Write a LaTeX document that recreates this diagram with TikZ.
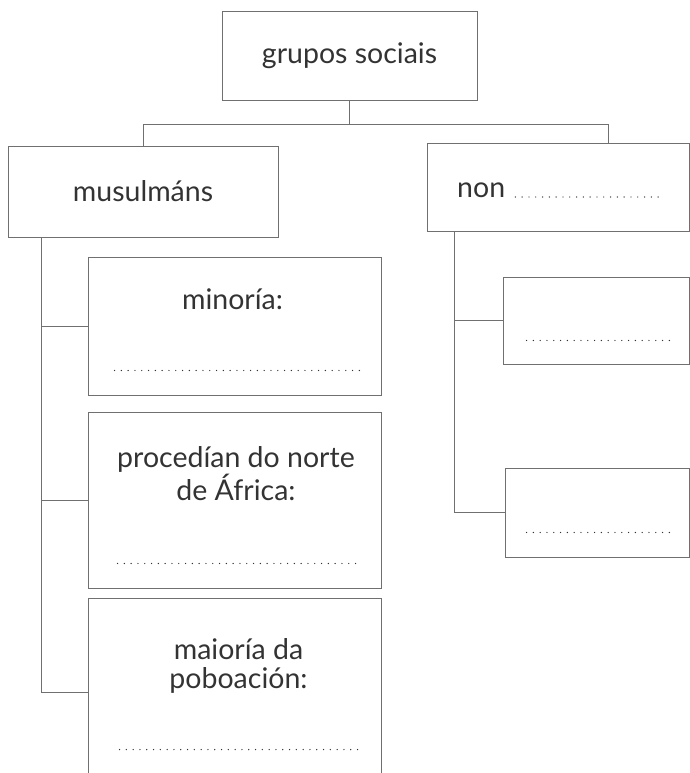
\documentclass[tikz,border=0pt]{standalone}
\usepackage{fontspec}
\setmainfont{Lato}
\usetikzlibrary{positioning}
\definecolor{ink}{HTML}{333333}
\definecolor{edge}{HTML}{707070}

\begin{document}
\begin{tikzpicture}[
    x=1pt, y=-1pt,
    box/.style={rectangle, draw=edge, line width=0.9pt, inner sep=0pt, text=ink, font=\fontsize{28.5}{29}\selectfont},
    txt/.style={text=ink, font=\fontsize{28.5}{29}\selectfont, align=center, inner sep=0pt},
    link/.style={draw=edge, line width=0.9pt},
    blank/.style={draw=ink, line width=1.4pt, line cap=round, dash pattern=on 0pt off 6.8pt}
]
\useasboundingbox (0,0) rectangle (690,773);
\clip (0,0) rectangle (690,773);

\node (grupos) [box, minimum width=255pt, minimum height=89pt] at (349.5,55.5) {grupos sociais};
\node (musulmans) [box, minimum width=270pt, minimum height=91pt] at (143,191.5) {musulmáns};
\node (non) [box, minimum width=262pt, minimum height=88pt] at (558,187) {};
\node (nontxt) [txt, anchor=base west] at (457,197) {non};

% musulmans branch
\node (minoria) [box, minimum width=293pt, minimum height=138pt] at (234.5,326) {};
\node (procedian) [box, minimum width=293pt, minimum height=176pt] at (234.5,500) {};
\node (maioria) [box, minimum width=293pt, minimum height=232pt] at (234.5,714) {};
\node (minoriatxt) [txt, anchor=north] at ([xshift=-2pt, yshift=-32pt]minoria.north) {minoría:};
\node (procediantxt) [txt, anchor=north] at ([xshift=1.5pt, yshift=-35pt]procedian.north) {procedían do norte\\de África:};
\node (maioriatxt) [txt, anchor=north] at ([xshift=4pt, yshift=-41pt]maioria.north) {maioría da\\poboación:};

% non branch
\node (blanka) [box, minimum width=186pt, minimum height=87pt] at (596,320.5) {};
\node (blankb) [box, minimum width=184pt, minimum height=89pt] at (597,512.5) {};

% dotted blanks
\draw [blank] ([xshift=10pt]nontxt.base east) -- ++(148,0);
\draw [blank] ([xshift=27pt, yshift=25pt]minoria.south west) -- ++(245,0);
\draw [blank] ([xshift=30pt, yshift=25pt]procedian.south west) -- ++(244,0);
\draw [blank] ([xshift=32pt, yshift=-152pt]maioria.north west) -- ++(242,0);
\draw [blank] ([xshift=24pt, yshift=24pt]blanka.south west) -- ++(146,0);
\draw [blank] ([xshift=22pt, yshift=25pt]blankb.south west) -- ++(148,0);

\draw [link] (grupos.south) -- ++(0,24) coordinate (fork);
\draw [link] (fork) -| (musulmans.north);
\draw [link] (fork) -| ([xshift=50pt]non.north);
\draw [link] ([xshift=34pt]musulmans.south west) coordinate (ltop) |- (minoria.west);
\draw [link] (ltop) |- (procedian.west);
\draw [link] (ltop) |- ([yshift=-95pt]maioria.north west);
\draw [link] ([xshift=28pt]non.south west) coordinate (rtop) |- (blanka.west);
\draw [link] (rtop) |- (blankb.west);
\end{tikzpicture}
\end{document}
